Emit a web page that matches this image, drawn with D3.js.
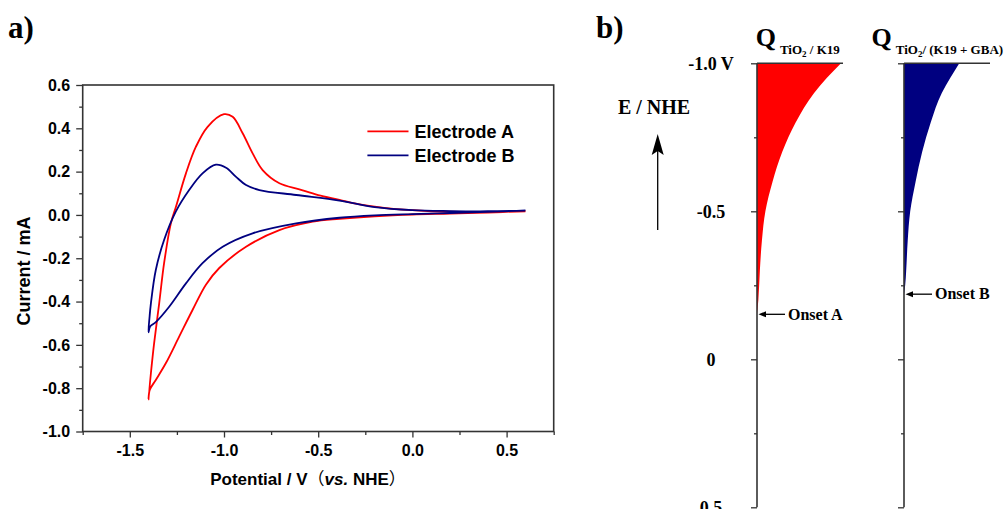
<!DOCTYPE html>
<html><head><meta charset="utf-8">
<script src="https://cdn.jsdelivr.net/npm/d3@7"></script>
<style>body{margin:0;background:#fff;overflow:hidden}</style>
</head><body>
<svg id="c" width="1005" height="509"></svg>
<script>
// ---------- data: panel a) cyclic voltammograms ----------
const potentialA = [0.6,0.4,0.2,0.0,-0.2,-0.387,-0.529,-0.706,-0.883,-1.025,-1.096,-1.167,-1.238,-1.309,-1.362,-1.394,-1.401,
  -1.388,-1.371,-1.344,-1.318,-1.282,-1.255,-1.202,-1.149,-1.087,-1.0,-0.954,-0.901,-0.848,-0.795,-0.706,-0.6,-0.5,-0.387,-0.3,-0.2,-0.1,0.0,0.1,0.3,0.6];
const currentA = [0.017,0.011,0.006,0.002,-0.006,-0.018,-0.031,-0.07,-0.147,-0.245,-0.322,-0.439,-0.562,-0.685,-0.762,-0.808,-0.852,
  -0.731,-0.593,-0.408,-0.223,-0.039,0.038,0.192,0.315,0.407,0.465,0.453,0.377,0.284,0.207,0.146,0.118,0.092,0.07,0.052,0.038,0.028,0.022,0.017,0.013,0.017];
const potentialB = [0.6,0.4,0.2,0.0,-0.2,-0.387,-0.617,-0.848,-1.007,-1.114,-1.202,-1.291,-1.362,-1.392,-1.401,
  -1.395,-1.388,-1.362,-1.318,-1.256,-1.185,-1.114,-1.043,-0.989,-0.936,-0.883,-0.812,-0.617,-0.387,-0.2,0.0,0.2,0.4,0.6];
const currentB = [0.02,0.014,0.009,0.004,-0.002,-0.013,-0.039,-0.085,-0.147,-0.223,-0.316,-0.424,-0.495,-0.515,-0.542,
  -0.47,-0.408,-0.254,-0.116,0.015,0.115,0.192,0.232,0.218,0.176,0.138,0.115,0.092,0.066,0.036,0.022,0.018,0.017,0.02];
const seriesNames = ["Electrode A", "Electrode B"];
const xTicks = [-1.5, -1.0, -0.5, 0.0, 0.5];
const xMinorTicks = [-1.75, -1.25, -0.75, -0.25, 0.25, 0.75];
const yTicks = [-1.0, -0.8, -0.6, -0.4, -0.2, 0.0, 0.2, 0.4, 0.6];
const yMinorTicks = [-0.9, -0.7, -0.5, -0.3, -0.1, 0.1, 0.3, 0.5];

// ---------- data: panel b) trapped charge vs potential (normalised) ----------
const potentialQA = [-1.0, -0.95, -0.9, -0.8, -0.7, -0.6, -0.5, -0.4, -0.3, -0.2, -0.152];
const chargeQA    = [1.0, 0.83, 0.68, 0.46, 0.30, 0.185, 0.1, 0.058, 0.034, 0.016, 0];
const potentialQB = [-1.0, -0.95, -0.9, -0.8, -0.7, -0.6, -0.5, -0.4, -0.3, -0.25, -0.22];
const chargeQB    = [0.658, 0.55, 0.45, 0.318, 0.216, 0.138, 0.074, 0.044, 0.026, 0.014, 0];
const onsetE = [-0.152, -0.22];
const onsetLabels = ["Onset A", "Onset B"];
const eTicks = [-1.0, -0.5, 0, 0.5];
const eMinorTicks = [-0.75, -0.25, 0.25];
const eTickLabels = ["-1.0 V", "-0.5", "0", "0.5"];

const colors = ["#ff0000", "#000080"];
const sans = "'Liberation Sans', Arial, sans-serif";
const serif = "'Liberation Serif', 'Times New Roman', serif";
const axisColor = "#333";

const svg = d3.select("#c");

// ================= panel a =================
const L = 82.7, R = 553.7, T = 85, B = 431.5;
const x = d3.scaleLinear().domain([-1.75, 0.75]).range([L, R]);
const y = d3.scaleLinear().domain([-1.0, 0.6]).range([B, T]);

svg.append("text").attr("x", 8).attr("y", 38).attr("font-family", serif)
  .attr("font-weight", "bold").attr("font-size", 31).text("a)");

function styleAxis(g) {
  g.select(".domain").remove();
  g.selectAll("line").attr("stroke", axisColor).attr("stroke-width", 1.3);
  g.selectAll("text").attr("font-family", sans).attr("font-weight", "bold")
    .attr("font-size", 16).attr("fill", "#000");
}
svg.append("g").attr("transform", `translate(0,${B})`)
  .call(d3.axisBottom(x).tickValues(xTicks).tickSize(6).tickPadding(7.5).tickFormat(d => d.toFixed(1)))
  .call(styleAxis);
svg.append("g").attr("transform", `translate(0,${B})`)
  .call(d3.axisBottom(x).tickValues(xMinorTicks).tickSize(3.5).tickFormat(""))
  .call(styleAxis);
svg.append("g").attr("transform", `translate(${L},0)`)
  .call(d3.axisLeft(y).tickValues(yTicks).tickSize(6.5).tickPadding(6).tickFormat(d => d.toFixed(1)))
  .call(styleAxis);
svg.append("g").attr("transform", `translate(${L},0)`)
  .call(d3.axisLeft(y).tickValues(yMinorTicks).tickSize(3.5).tickFormat(""))
  .call(styleAxis);

svg.append("rect").attr("x", L).attr("y", T).attr("width", R - L).attr("height", B - T)
  .attr("fill", "none").attr("stroke", axisColor).attr("stroke-width", 1.6);

const line = d3.line().x(d => x(d[0])).y(d => y(d[1])).curve(d3.curveCatmullRom.alpha(0.5));
const cvData = [
  potentialA.map((p, i) => [p, currentA[i]]),
  potentialB.map((p, i) => [p, currentB[i]])
];
cvData.forEach((d, i) => {
  svg.append("path").datum(d).attr("d", line).attr("fill", "none")
    .attr("stroke", colors[i]).attr("stroke-width", 1.8).attr("stroke-linejoin", "round");
});

// legend
seriesNames.forEach((n, i) => {
  const ly = 131.3 + i * 24.1;
  svg.append("line").attr("x1", 367.4).attr("x2", 408.5).attr("y1", ly).attr("y2", ly)
    .attr("stroke", colors[i]).attr("stroke-width", 1.8);
  svg.append("text").attr("x", 414.6).attr("y", ly).attr("dy", "0.35em")
    .attr("font-family", sans).attr("font-weight", "bold").attr("font-size", 18).text(n);
});

// axis titles
const xt = svg.append("text").attr("x", 308).attr("y", 485).attr("text-anchor", "middle")
  .attr("font-family", sans).attr("font-weight", "bold").attr("font-size", 17);
xt.append("tspan").text("Potential / V");
xt.append("tspan").attr("font-family", "'Noto Sans CJK SC', sans-serif").attr("font-weight", "normal").text("（");
xt.append("tspan").attr("font-style", "italic").text("vs.");
xt.append("tspan").text(" NHE");
xt.append("tspan").attr("font-family", "'Noto Sans CJK SC', sans-serif").attr("font-weight", "normal").text("）");

svg.append("text").attr("transform", "translate(29.5,271) rotate(-90)").attr("text-anchor", "middle")
  .attr("font-family", sans).attr("font-weight", "bold").attr("font-size", 18).text("Current / mA");

// ================= panel b =================
svg.append("text").attr("x", 596).attr("y", 38).attr("font-family", serif)
  .attr("font-weight", "bold").attr("font-size", 31).text("b)");

const e = d3.scaleLinear().domain([-1.0, 0.5]).range([63.3, 507.3]);
const q = d3.scaleLinear().domain([0, 1]).range([0, 84]);
const panelX = [757, 904];
const titleX = [755.7, 871.5];
const qData = [
  potentialQA.map((p, i) => [p, chargeQA[i]]),
  potentialQB.map((p, i) => [p, chargeQB[i]])
];
const subTexts = [" / K19", "/ (K19 + GBA)"];

panelX.forEach((px, i) => {
  const area = d3.area().y(d => e(d[0])).x0(px).x1(d => px + q(d[1])).curve(d3.curveMonotoneY);
  svg.append("path").datum(qData[i]).attr("d", area).attr("fill", colors[i]);

  const g = svg.append("g").attr("transform", `translate(${px},0)`);
  g.call(d3.axisLeft(e).tickValues(eTicks).tickSize(6).tickFormat(""));
  g.call(s => s.select(".domain").remove());
  const g2 = svg.append("g").attr("transform", `translate(${px},0)`);
  g2.call(d3.axisLeft(e).tickValues(eMinorTicks).tickSize(3).tickFormat(""));
  g2.select(".domain").remove();
  [g, g2].forEach(gg => gg.selectAll("line").attr("stroke", axisColor).attr("stroke-width", 1.3));

  svg.append("line").attr("x1", px).attr("x2", px).attr("y1", e(-1.0)).attr("y2", e(0.5))
    .attr("stroke", axisColor).attr("stroke-width", 1.6);
  svg.append("line").attr("x1", px).attr("x2", px + 86).attr("y1", e(-1.0)).attr("y2", e(-1.0))
    .attr("stroke", axisColor).attr("stroke-width", 1.6);

  // title Q_sub
  const t = svg.append("text").attr("x", titleX[i]).attr("y", 46).attr("font-family", serif).attr("font-weight", "bold");
  t.append("tspan").attr("font-size", 26).text("Q");
  t.append("tspan").attr("font-size", 13).attr("dx", 4).attr("dy", 7.5).text("TiO");
  t.append("tspan").attr("font-size", 9).attr("dy", 3).text("2");
  t.append("tspan").attr("font-size", 13).attr("dy", -3).text(subTexts[i]);

  // onset arrow + label
  const oy = e(onsetE[i]);
  svg.append("line").attr("x1", px + 5).attr("x2", px + 28).attr("y1", oy).attr("y2", oy)
    .attr("stroke", "#000").attr("stroke-width", 1.3);
  svg.append("path").attr("d", `M${px + 1.5},${oy} L${px + 9},${oy - 3} L${px + 9},${oy + 3} Z`).attr("fill", "#000");
  svg.append("text").attr("x", px + 31).attr("y", oy).attr("dy", "0.33em").attr("font-family", serif)
    .attr("font-weight", "bold").attr("font-size", 16).text(onsetLabels[i]);
});

// E axis labels
eTicks.forEach((v, i) => {
  svg.append("text").attr("x", 711).attr("y", e(v)).attr("dy", "0.35em").attr("text-anchor", "middle")
    .attr("font-family", serif).attr("font-weight", "bold").attr("font-size", 18).text(eTickLabels[i]);
});

// E / NHE label with arrow
svg.append("text").attr("x", 654).attr("y", 114).attr("text-anchor", "middle").attr("font-family", serif)
  .attr("font-weight", "bold").attr("font-size", 20).text("E / NHE");
svg.append("line").attr("x1", 657.7).attr("x2", 657.7).attr("y1", 230).attr("y2", 148)
  .attr("stroke", "#000").attr("stroke-width", 1.3);
svg.append("path").attr("d", "M657.7,134 L663.7,155 L657.7,151 L651.7,155 Z").attr("fill", "#000");
</script>
</body></html>
